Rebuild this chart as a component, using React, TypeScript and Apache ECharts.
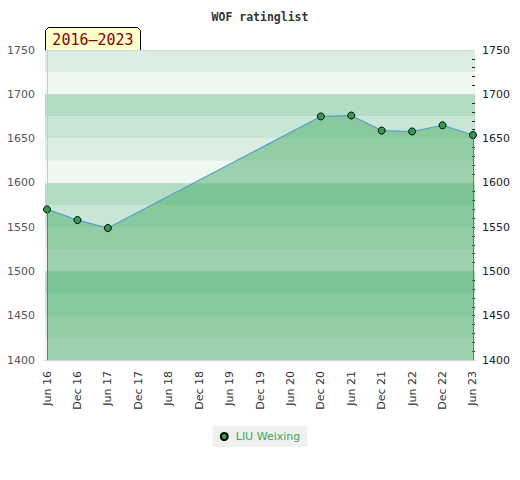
import React, { useEffect, useRef } from "react";
import * as echarts from "echarts";

const dates = ["2016-06", "2016-12", "2017-06", "2020-12", "2021-06", "2021-12", "2022-06", "2022-12", "2023-06"];
const ratings = [1570, 1558, 1549, 1675, 1676, 1659, 1658, 1665, 1654];
const xTickLabels = [
  "Jun 16", "Dec 16", "Jun 17", "Dec 17", "Jun 18", "Dec 18", "Jun 19", "Dec 19",
  "Jun 20", "Dec 20", "Jun 21", "Dec 21", "Jun 22", "Dec 22", "Jun 23",
];
const seriesName = "LIU Weixing";
const title = "WOF ratinglist";
const bandColors = ["#eff7f1", "#dcede2", "#c8e6d3", "#b3ddc3"];

const START_Y = 2016;
const START_M = 6;
const toMonths = (d: string) => {
  const [y, m] = d.split("-").map(Number);
  return (y - START_Y) * 12 + (m - START_M);
};

export default function App() {
  const ref = useRef<HTMLDivElement>(null);
  useEffect(() => {
    if (!ref.current) return;
    const chart = echarts.init(ref.current, undefined, { renderer: "svg" });
    const points = dates.map((d, i) => [toMonths(d), ratings[i]]);
    const tickValues = xTickLabels.map((_, i) => i * 6);
    const first = points[0];
    const last = points[points.length - 1];
    const yMin = 1400;
    const yMax = 1750;
    const rangeLabel = `${dates[0].slice(0, 4)}–${dates[dates.length - 1].slice(0, 4)}`;
    const hiddenY = (interval: number, extra: any) => ({
      type: "value",
      min: yMin,
      max: yMax,
      interval,
      position: "left",
      axisLine: { show: false },
      axisTick: { show: false },
      axisLabel: { show: false },
      splitLine: { show: false },
      ...extra,
    });
    chart.setOption({
      animation: false,
      backgroundColor: "#ffffff",
      title: {
        text: title,
        left: "center",
        top: 6,
        textStyle: { fontSize: 11.5, fontWeight: "bold", fontFamily: "DejaVu Sans Mono", color: "#333" },
      },
      grid: { left: 45, right: 45, top: 50, bottom: 120 },
      xAxis: {
        type: "value",
        min: -0.4,
        max: tickValues[tickValues.length - 1] + 0.4,
        axisLine: { show: true, lineStyle: { color: "#cccccc" } },
        axisTick: { show: false },
        splitLine: { show: false },
        axisLabel: {
          customValues: tickValues,
          rotate: 90,
          margin: 11,
          fontSize: 11,
          fontFamily: "DejaVu Sans",
          color: "#333",
          formatter: (v: number) => xTickLabels[Math.round(v / 6)] ?? "",
        },
      },
      yAxis: [
        {
          type: "value",
          min: yMin,
          max: yMax,
          interval: 50,
          position: "left",
          axisLine: { show: true, lineStyle: { color: "#cccccc" } },
          axisTick: { show: false },
          splitLine: { show: false },
          axisLabel: { margin: 10, fontSize: 11, fontFamily: "DejaVu Sans", color: "#555", formatter: (v: number) => String(v) },
        },
        {
          type: "value",
          min: yMin,
          max: yMax,
          interval: 50,
          position: "right",
          axisLine: { show: false },
          axisTick: { show: true, inside: true, length: 3, lineStyle: { color: "#222" } },
          minorTick: { show: true, splitNumber: 5, length: 3, lineStyle: { color: "#222" } },
          splitLine: { show: false },
          axisLabel: { margin: 7, fontSize: 11, fontFamily: "DejaVu Sans", color: "#222", formatter: (v: number) => String(v) },
        },
        hiddenY(25, { z: 0, splitArea: { show: true, areaStyle: { color: bandColors } } }),
        hiddenY(100, { z: 1, splitLine: { show: true, lineStyle: { color: "#d4d4d4", width: 1 } } }),
      ],
      legend: {
        data: [seriesName],
        left: "center",
        top: 426,
        backgroundColor: "#f0f0f0",
        padding: [5, 7],
        itemWidth: 13,
        itemHeight: 7,
        icon: "circle",
        textStyle: { color: "#3da65a", fontSize: 11, fontFamily: "DejaVu Sans" },
      },
      series: [
        {
          name: seriesName,
          type: "line",
          data: points,
          z: 3,
          symbol: "circle",
          symbolSize: 7,
          itemStyle: { color: "#2e9e50", borderColor: "#000", borderWidth: 1 },
          lineStyle: { color: "#5b9bd5", width: 1.2 },
          areaStyle: { color: "rgb(71,173,105)", opacity: 0.5, origin: "start" },
          markLine: {
            silent: true,
            symbol: "none",
            label: { show: false },
            lineStyle: { color: "#2e9e50", width: 1, type: "solid" },
            data: [
              [{ coord: [first[0], yMin] }, { coord: [first[0], first[1]] }],
              [{ coord: [last[0], yMin] }, { coord: [last[0], last[1]] }],
            ],
          },
        },
      ],
      graphic: [
        {
          type: "group",
          left: 45,
          top: 27,
          z: 10,
          children: [
            {
              type: "polygon",
              shape: { points: [[0, 23], [0, 3], [3, 0], [92, 0], [95, 3], [95, 23]] },
              style: { fill: "#ffffcc", stroke: "#000", lineWidth: 1 },
            },
            {
              type: "text",
              x: 47.5,
              y: 12,
              style: {
                text: rangeLabel,
                fontSize: 15,
                fontFamily: "DejaVu Sans Mono",
                fill: "#8b0000",
                align: "center",
                verticalAlign: "middle",
              },
            },
          ],
        },
      ],
    });
    return () => chart.dispose();
  }, []);
  return <div ref={ref} style={{ position: "absolute", left: 0, top: 0, width: 520, height: 480 }} />;
}
